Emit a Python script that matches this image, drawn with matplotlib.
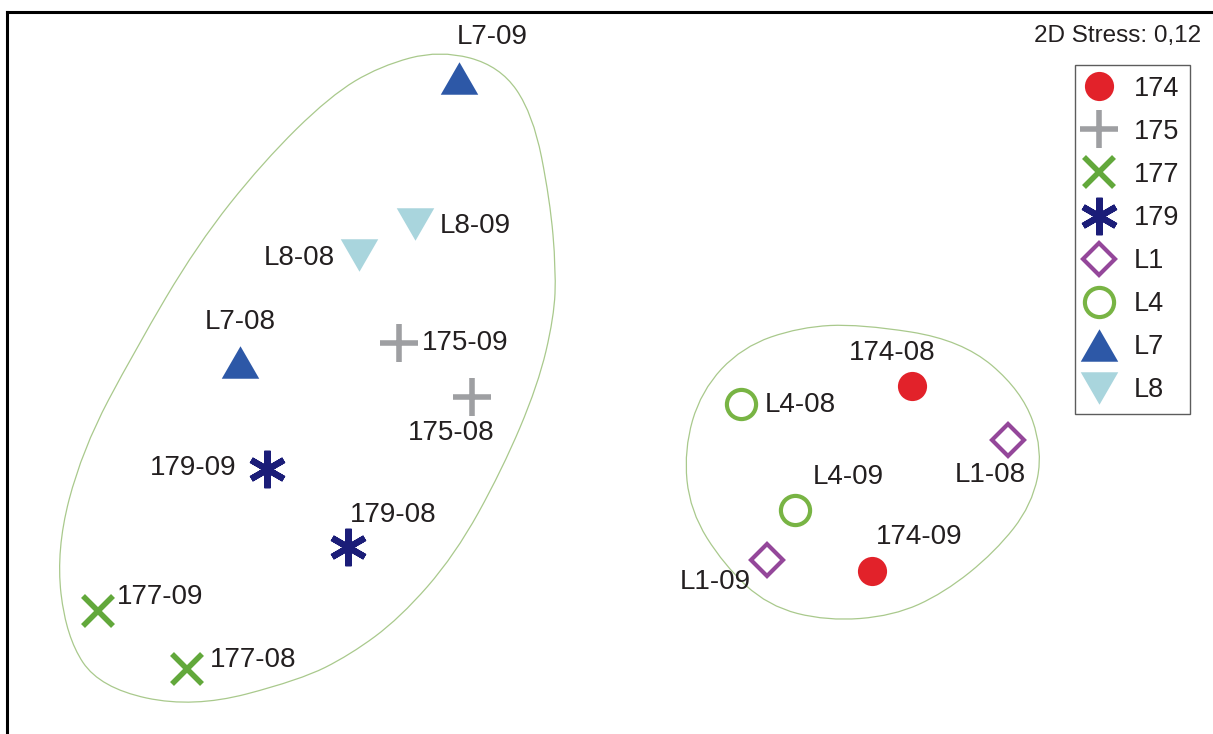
import matplotlib
matplotlib.use("Agg")
import matplotlib.pyplot as plt
from matplotlib.path import Path
from matplotlib.patches import PathPatch

# NMDS sample positions (image-pixel units)
sample_names = ['174-08', '174-09', '175-08', '175-09', '177-08', '177-09',
                '179-08', '179-09', 'L1-08', 'L1-09', 'L4-08', 'L4-09',
                'L7-08', 'L7-09', 'L8-08', 'L8-09']
sample_group = ['174', '174', '175', '175', '177', '177', '179', '179',
                'L1', 'L1', 'L4', 'L4', 'L7', 'L7', 'L8', 'L8']
x_pos = [912, 872, 472, 399, 187, 98, 348, 267, 1008, 767, 741, 795, 240, 459, 359, 415]
y_pos = [386, 571, 397, 343, 669, 611, 547, 469, 440, 560, 404, 510, 362, 78, 255, 224]

groups = ['174', '175', '177', '179', 'L1', 'L4', 'L7', 'L8']

# cluster outlines traced round the two groups
big_x = [440, 500, 533, 550, 556, 554, 538, 502, 455, 400, 350, 300, 193, 100, 66, 56, 82, 135, 197, 263, 330, 380]
big_y = [50, 66, 114, 200, 270, 317, 385, 470, 555, 618, 655, 680, 708, 688, 637, 550, 450, 350, 245, 162, 96, 66]
small_x = [860, 962, 1022, 1043, 1032, 995, 944, 893, 827, 768, 724, 690, 684, 701, 742, 800]
small_y = [324, 340, 391, 450, 505, 552, 593, 616, 621, 606, 565, 511, 450, 391, 347, 327]

stress_text = '2D Stress: 0,12'

tri_up = [(-1, -0.866), (1, -0.866), (0, 0.866)]
tri_down = [(-1, 0.866), (1, 0.866), (0, -0.866)]
styles = {
    '174': dict(marker='o', ms=21, color='#e2222a', mfc='#e2222a', mew=0),
    '175': dict(marker='+', ms=27, color='#9e9fa2', mew=4),
    '177': dict(marker='x', ms=21, color='#62a83b', mew=4),
    '179': dict(marker=(6, 2, 0), ms=27, color='#1b1d78', mew=4.5),
    'L1': dict(marker='D', ms=16, color='#94479a', mfc='none', mew=3),
    'L4': dict(marker='o', ms=21, color='#78b444', mfc='none', mew=3),
    'L7': dict(marker=tri_up, ms=27, color='#2d58a7', mew=0),
    'L8': dict(marker=tri_down, ms=27, color='#a9d5dd', mew=0),
}

# label placement relative to each point
label_offset = {
    '174-08': (-20, -33, 'center'), '174-09': (47, -34, 'center'),
    '175-08': (-21, 36, 'center'), '175-09': (23, 0, 'left'),
    '177-08': (23, -9, 'left'), '177-09': (19, -14, 'left'),
    '179-08': (45, -32, 'center'), '179-09': (-30, -1, 'right'),
    'L1-08': (-18, 35, 'center'), 'L1-09': (-52, 22, 'center'),
    'L4-08': (24, 1, 'left'), 'L4-09': (53, -33, 'center'),
    'L7-08': (0, -40, 'center'), 'L7-09': (33, -41, 'center'),
    'L8-08': (-24, 3, 'right'), 'L8-09': (25, 2, 'left'),
}


def outline_path(xs, ys):
    '''
    Closed smooth curve using the traced points as control points.
    '''
    pts = list(zip(xs, ys))
    n = len(pts)
    mids = [((pts[i][0] + pts[(i + 1) % n][0]) / 2, (pts[i][1] + pts[(i + 1) % n][1]) / 2)
            for i in range(n)]
    verts = [mids[-1]]
    codes = [Path.MOVETO]
    for i in range(n):
        verts += [pts[i], mids[i]]
        codes += [Path.CURVE3, Path.CURVE3]
    return Path(verts, codes)


plt.rcParams['font.family'] = ['Liberation Sans', 'DejaVu Sans']
fig = plt.figure(figsize=(12.13, 7.34), dpi=100)
left_px, top_px = 6.5, 12
ax = fig.add_axes([left_px / 1213, 0, 1 - left_px / 1213, (734 - top_px) / 734])
ax.set_xlim(left_px, 1213)
ax.set_ylim(734, top_px)
ax.set_xticks([])
ax.set_yticks([])
for side in ['right', 'bottom']:
    ax.spines[side].set_visible(False)
for side in ['left', 'top']:
    ax.spines[side].set_linewidth(2.2)
    ax.spines[side].set_color('black')

for xs, ys in [(big_x, big_y), (small_x, small_y)]:
    ax.add_patch(PathPatch(outline_path(xs, ys), fill=False, edgecolor='#a9c98c', lw=0.9))

for g in groups:
    gx = [x for x, s in zip(x_pos, sample_group) if s == g]
    gy = [y for y, s in zip(y_pos, sample_group) if s == g]
    ax.plot(gx, gy, linestyle='none', label=g, **styles[g])

for name, x, y in zip(sample_names, x_pos, y_pos):
    dx, dy, ha = label_offset[name]
    ax.text(x + dx, y + dy, name, ha=ha, va='center', fontsize=20, color='#231f20')

ax.text(1201, 36, stress_text, ha='right', va='center', fontsize=17.5, color='#231f20')

leg = ax.legend(loc='upper right', bbox_to_anchor=(1190 / 1213, 1 - 65 / 734),
                bbox_transform=fig.transFigure, borderaxespad=0, numpoints=1,
                fontsize=19.5, handlelength=1.0, handletextpad=0.78,
                labelspacing=0.63, borderpad=0.4, fancybox=False)
leg.get_frame().set_edgecolor('#333333')
leg.get_frame().set_linewidth(1.0)
for t in leg.get_texts():
    t.set_color('#231f20')

fig.savefig('out.png', dpi=100)
